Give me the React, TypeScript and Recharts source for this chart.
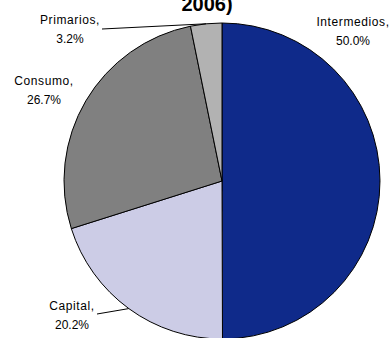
import React from "react";
import { PieChart, Pie, Cell } from "recharts";

const categories = ["Intermedios", "Capital", "Consumo", "Primarios"];
const shares = [50.0, 20.2, 26.7, 3.2];
const titleTail = "2006)";

const colors = ["#0F2A8A", "#CCCCE6", "#808080", "#B2B2B2"];

// label placement relative to pie centre (px): text centre x, first baseline y, optional leader start
const labelLayout = [
  { dx: 131, dy: -155.5 },
  { dx: -150, dy: 128.5, lx: -125, ly: 133 },
  { dx: -178, dy: -96.5 },
  { dx: -152, dy: -157, lx: -120, ly: -152 },
];

const data = categories.map((name, i) => ({ name, value: shares[i] }));
const RADIAN = Math.PI / 180;
const FONT = "'Liberation Sans', Arial, sans-serif";

const renderLabel = (props: any) => {
  const { cx, cy, midAngle, outerRadius, index, name, value } = props;
  const l = labelLayout[index];
  const x = cx + l.dx;
  const y = cy + l.dy;
  const ex = cx + outerRadius * Math.cos(-midAngle * RADIAN);
  const ey = cy + outerRadius * Math.sin(-midAngle * RADIAN);
  return (
    <g key={`lbl-${index}`}>
      {l.lx !== undefined && (
        <line x1={cx + l.lx} y1={cy + l.ly} x2={ex} y2={ey} stroke="#000" strokeWidth={1} />
      )}
      <text x={x} y={y} textAnchor="middle" fontFamily={FONT} fontSize={12} letterSpacing={0.6} fill="#000">
        {`${name},`}
      </text>
      <text x={x} y={y + 19} textAnchor="middle" fontFamily={FONT} fontSize={12} fill="#000">
        {`${Number(value).toFixed(1)}%`}
      </text>
    </g>
  );
};

export default function App() {
  return (
    <div style={{ position: "absolute", left: 0, top: 0, width: 390, height: 338, overflow: "hidden", background: "#fff" }}>
      <PieChart width={390} height={338} margin={{ top: 0, right: 0, bottom: 0, left: 0 }}>
        <Pie
          data={data}
          dataKey="value"
          nameKey="name"
          cx={222}
          cy={181}
          outerRadius={158}
          startAngle={90}
          endAngle={-270}
          stroke="#000"
          strokeWidth={1}
          label={renderLabel}
          labelLine={false}
          isAnimationActive={false}
        >
          {data.map((d, i) => (
            <Cell key={d.name} fill={colors[i]} />
          ))}
        </Pie>
      </PieChart>
      <div
        style={{
          position: "absolute",
          left: 157,
          top: -6,
          width: 100,
          textAlign: "center",
          fontFamily: FONT,
          fontWeight: "bold",
          fontSize: 20,
          lineHeight: "20px",
          color: "#000",
        }}
      >
        {titleTail}
      </div>
    </div>
  );
}
